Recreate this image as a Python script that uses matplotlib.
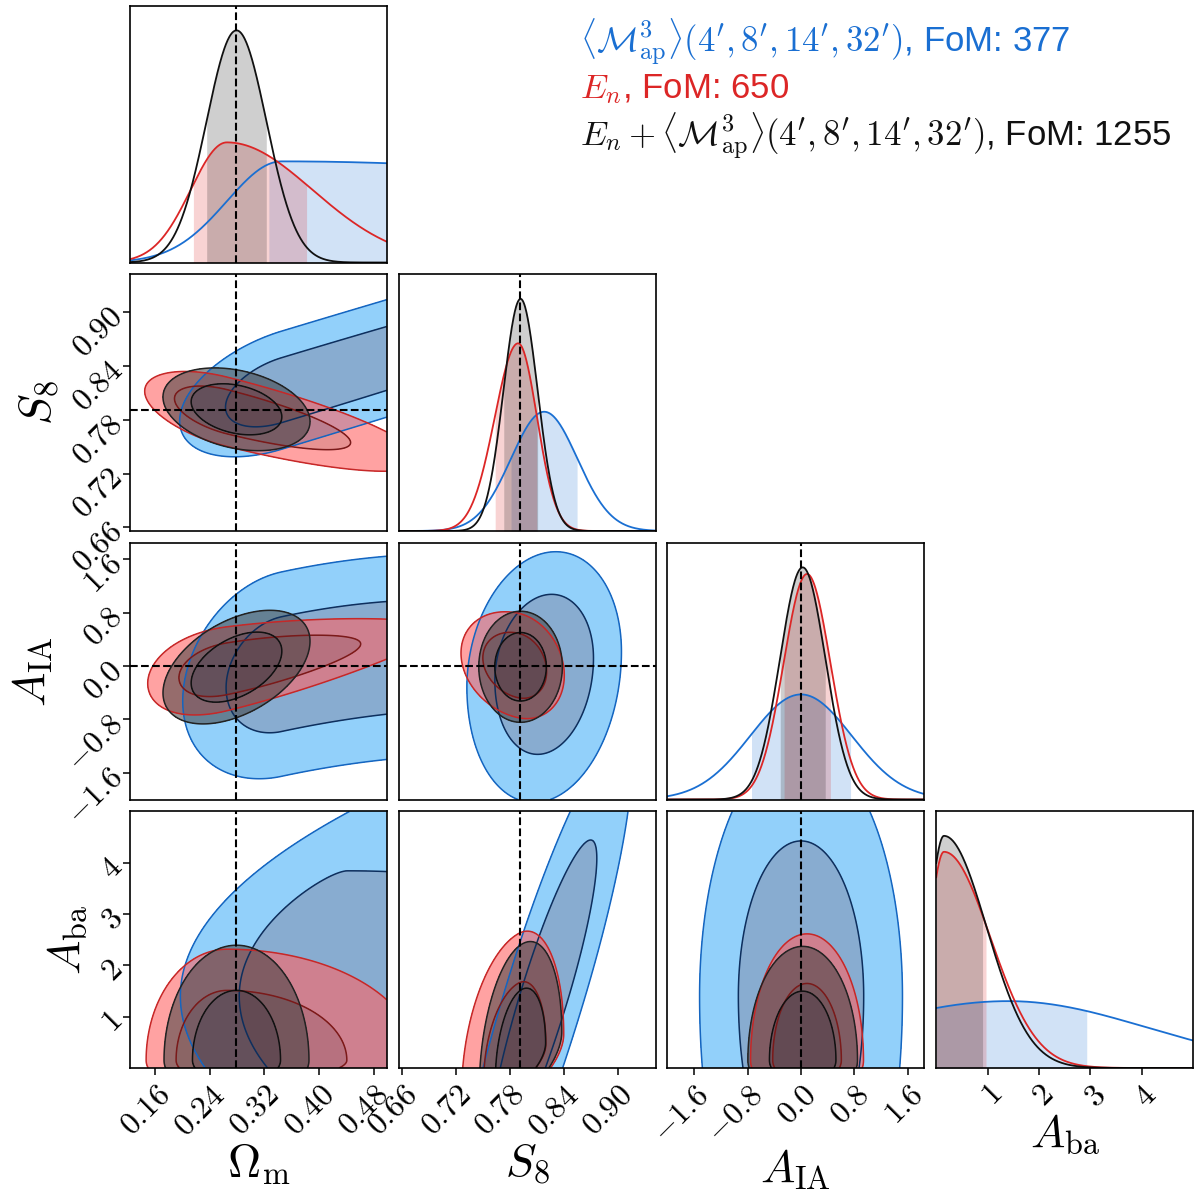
import numpy as np
import matplotlib
matplotlib.use("Agg")
import matplotlib.pyplot as plt

plt.rcParams["mathtext.fontset"] = "cm"
plt.rcParams["font.family"] = ["Liberation Sans", "DejaVu Sans"]

# parameters: Omega_m, S8, A_IA, A_ba
labels = [r"$\Omega_{\rm m}$", r"$S_8$", r"$A_{\rm IA}$", r"$A_{\rm ba}$"]
lims = [(0.123, 0.499), (0.656, 0.942), (-2.0, 1.846), (0.0, 5.0)]
ticks = [[0.16, 0.24, 0.32, 0.40, 0.48],
         [0.66, 0.72, 0.78, 0.84, 0.90],
         [-1.6, -0.8, 0.0, 0.8, 1.6],
         [1, 2, 3, 4]]
tick_text = [["0.16", "0.24", "0.32", "0.40", "0.48"],
             ["0.66", "0.72", "0.78", "0.84", "0.90"],
             ["-1.6", "-0.8", "0.0", "0.8", "1.6"],
             ["1", "2", "3", "4"]]
truth = [0.279, 0.791, 0.0, None]

# 1D marginals: mode, lower width, upper width
blue_mode = [0.345, 0.818, 0.0, 1.4]
blue_lo = [0.08, 0.037, 0.76, 3.0]
blue_hi = [0.8, 0.037, 0.76, 2.7]
red_mode = [0.265, 0.789, 0.09, 0.15]
red_lo = [0.053, 0.026, 0.35, 0.3]
red_hi = [0.125, 0.021, 0.35, 0.9]
black_mode = [0.279, 0.7917, 0.025, 0.15]
black_lo = [0.044, 0.019, 0.34, 0.3]
black_hi = [0.044, 0.019, 0.34, 0.83]

# 2D panels (row, col): conditioned axis, shift, slope, curvature,
# lower width, upper width, fan, width scale of the other axis
blue_2d = {(1, 0): ("y", -0.005, 0.23, 0.0, 0.03, 0.03, 0.0, 0.85),
           (2, 0): ("y", -0.12, 2.2, -4.0, 0.72, 0.72, 0.0, 0.85),
           (3, 0): ("x", -0.005, 0.0, 0.017, 0.085, 0.8, 0.0, 1.35),
           (2, 1): ("y", -0.05, 3.1, 0.0, 0.85, 0.75, 0.0, 1.0),
           (3, 1): ("x", 0.0, 0.017, 0.0, 0.022, 0.022, 0.0, 0.9),
           (3, 2): ("y", 0.0, 0.0, 0.0, 3.0, 2.45, 0.0, 1.0)}
red_2d = {(1, 0): ("y", 0.0, -0.19, 0.0, 0.017, 0.017, 0.0, 1.0),
          (2, 0): ("y", -0.13, 1.9, 0.0, 0.28, 0.28, -1.2, 1.0),
          (3, 0): ("y", 0.0, 0.0, 0.0, 0.3, 0.97, 0.0, 1.0),
          (2, 1): ("y", -0.08, -2.9, 0.0, 0.32, 0.32, 0.0, 1.0),
          (3, 1): ("y", 0.0, 10.0, 0.0, 0.3, 1.02, 0.0, 1.0),
          (3, 2): ("y", 0.0, 0.0, 0.0, 0.3, 1.02, 0.0, 1.0)}
black_2d = {(1, 0): ("y", 0.0, -0.127, 0.0, 0.018, 0.018, 0.0, 1.0),
            (2, 0): ("y", -0.04, 3.6, 0.0, 0.31, 0.31, 0.0, 1.0),
            (3, 0): ("y", 0.0, 0.0, 0.0, 0.3, 0.93, 0.0, 1.0),
            (2, 1): ("y", -0.035, 0.0, 0.0, 0.34, 0.34, 0.0, 1.0),
            (3, 1): ("y", 0.0, 12.0, 0.0, 0.3, 0.93, 0.0, 1.0),
            (3, 2): ("y", 0.0, 0.0, 0.0, 0.3, 0.92, 0.0, 1.0)}

legend_text = [r"$\langle\mathcal{M}_{\rm ap}^3\rangle(4', 8', 14', 32')$, FoM: 377",
               r"$E_n$, FoM: 650",
               r"$E_n + \langle\mathcal{M}_{\rm ap}^3\rangle(4', 8', 14', 32')$, FoM: 1255"]

chains = [
    dict(mode=blue_mode, lo=blue_lo, hi=blue_hi, pairs=blue_2d, line="#1a6fd2",
         fill=("#92d0fa", "#88acd0"), alpha=1.0, clines=("#1565c0", "#0d2f5e")),
    dict(mode=red_mode, lo=red_lo, hi=red_hi, pairs=red_2d, line="#dc2626",
         fill=("#ff6464", "#d84a4a"), alpha=0.6, clines=("#c62828", "#7a1a1a")),
    dict(mode=black_mode, lo=black_lo, hi=black_hi, pairs=black_2d, line="#111111",
         fill=("#404040", "#1e2a30"), alpha=0.55, clines=("#222222", "#111111")),
]


def sn(z, m, lo, hi):
    s = np.where(z < m, lo, hi)
    return np.exp(-0.5 * ((z - m) / s) ** 2)


def dens2d(c, i, j, X, Y):
    cond, off, slope, curv, lo, hi, fan, bw = c["pairs"][(i, j)]
    m, slo, shi = c["mode"], c["lo"], c["hi"]
    if cond == "y":
        d = X - m[j]
        k = np.clip(1 + fan * d, 0.15, None)
        mu = m[i] + off + slope * d + curv * d ** 2
        return sn(X, m[j], slo[j] * bw, shi[j] * bw) * sn(Y, mu, lo * k, hi * k) / k
    d = Y - m[i]
    k = np.clip(1 + fan * d, 0.15, None)
    mu = m[j] + off + slope * d + curv * d ** 2
    return sn(Y, m[i], slo[i] * bw, shi[i] * bw) * sn(X, mu, lo * k, hi * k) / k


def levels(P):
    flat = np.sort(P.ravel())[::-1]
    cs = np.cumsum(flat)
    cs /= cs[-1]
    return flat[np.searchsorted(cs, 0.95)], flat[np.searchsorted(cs, 0.68)]


fig, axes = plt.subplots(4, 4, figsize=(12, 12), dpi=100)
fig.subplots_adjust(left=0.1083, right=0.9942, top=0.995, bottom=0.11,
                    wspace=0.0467, hspace=0.0467)

for i in range(4):
    for j in range(4):
        ax = axes[i, j]
        if j > i:
            ax.set_visible(False)
            continue
        ax.set_xlim(lims[j])
        if i == j:
            z = np.linspace(lims[i][0], lims[i][1], 600)
            dz = z[1] - z[0]
            top = 0
            for c in chains:
                p = sn(z, c["mode"][i], c["lo"][i], c["hi"][i])
                p = p / (p.sum() * dz)
                top = max(top, p.max())
                srt = np.sort(p)[::-1]
                cs = np.cumsum(srt) / srt.sum()
                thr = srt[np.searchsorted(cs, 0.68)]
                ax.fill_between(z, 0, p, where=p >= thr, color=c["line"], alpha=0.2, lw=0)
                ax.plot(z, p, color=c["line"], lw=1.3)
            ax.set_ylim(0, top * 1.105)
            if truth[i] is not None:
                ax.axvline(truth[i], color="k", ls="--", lw=1.5)
        else:
            ax.set_ylim(lims[i])
            x = np.linspace(lims[j][0], lims[j][1], 260)
            y = np.linspace(lims[i][0], lims[i][1], 260)
            X, Y = np.meshgrid(x, y)
            for c in chains:
                P = dens2d(c, i, j, X, Y)
                t95, t68 = levels(P)
                ax.contourf(X, Y, P, levels=[t95, t68, P.max() * 2],
                            colors=list(c["fill"]), alpha=c["alpha"])
                ax.contour(X, Y, P, levels=[t95, t68], colors=list(c["clines"]),
                           linewidths=1.1)
            if truth[j] is not None:
                ax.axvline(truth[j], color="k", ls="--", lw=1.5)
            if truth[i] is not None:
                ax.axhline(truth[i], color="k", ls="--", lw=1.5)

        for s in ax.spines.values():
            s.set_linewidth(1.2)
        ax.tick_params(direction="out", length=5, width=1.1, labelsize=23)
        if i == 3:
            ax.set_xticks(ticks[j])
            ax.set_xticklabels(["$%s$" % t for t in tick_text[j]], rotation=45,
                               ha="right", va="top", rotation_mode="anchor")
            ax.set_xlabel(labels[j], fontsize=33, labelpad=0)
        else:
            ax.set_xticks([])
        if j == 0 and i > 0:
            ax.set_yticks(ticks[i])
            ax.set_yticklabels(["$%s$" % t for t in tick_text[i]], rotation=45,
                               ha="right", va="center", rotation_mode="anchor")
            ax.set_ylabel(labels[i], fontsize=33, labelpad=4)
        else:
            ax.set_yticks([])

for k, (txt, c) in enumerate(zip(legend_text, chains)):
    fig.text(0.4833, 0.965 - k * 0.0395, txt, color=c["line"], fontsize=25,
             ha="left", va="center")

fig.savefig("out.png", dpi=100)
